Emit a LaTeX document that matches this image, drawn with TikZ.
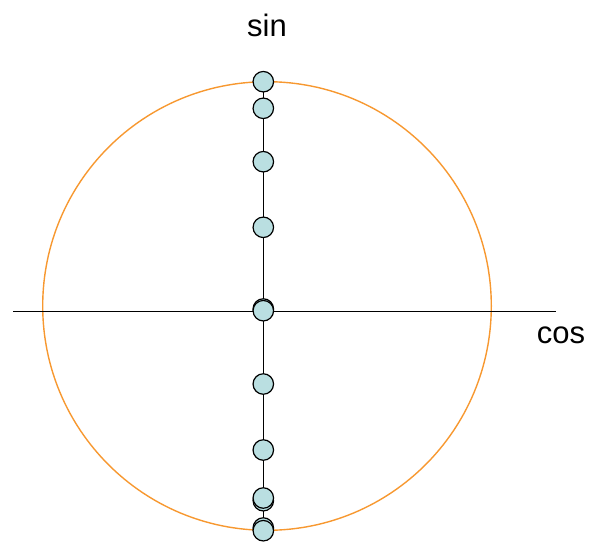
\documentclass[tikz,border=0pt]{standalone}
\usepackage{fontspec}
\setmainfont{Liberation Sans}
\definecolor{ringorange}{RGB}{247,152,48}
\definecolor{dotfill}{RGB}{186,223,225}
\begin{document}
\begin{tikzpicture}[x=1pt,y=-1pt,
  dotnode/.style={circle,draw=black,fill=dotfill,line width=1.2pt,minimum size=20.5pt,inner sep=0pt},
  axisline/.style={draw=black,line width=1.1pt},
  ring/.style={draw=ringorange,line width=1.4pt},
  lbl/.style={font=\fontsize{31}{36}\selectfont,inner sep=0pt}]
\useasboundingbox (0,0) rectangle (591,543);
\draw[ring] (267,306) circle (224.3);
\coordinate (axl) at (13,311.5);
\coordinate (axr) at (556,311.5);
\draw[axisline] (axl) -- (axr);
\coordinate (vt) at (263.3,81.7);
\coordinate (vb) at (263.3,530.7);
\draw[axisline] (vt) -- (vb);
\node[dotnode] (d1) at (263.3,81.7) {};
\node[dotnode] (d2) at (263.3,108.3) {};
\node[dotnode] (d3) at (263.3,161.7) {};
\node[dotnode] (d4) at (263.3,227.3) {};
\node[dotnode] (d5) at (263.3,309) {};
\node[dotnode] (d6) at (263.3,310.7) {};
\node[dotnode] (d7) at (263.3,384) {};
\node[dotnode] (d8) at (263.3,450) {};
\node[dotnode] (d10) at (263.3,500.7) {};
\node[dotnode] (d9) at (263.3,498) {};
\node[dotnode] (d11) at (263.3,528) {};
\node[dotnode] (d12) at (263.3,530.7) {};
\node[lbl,anchor=base] (sinl) at (267,37) {sin};
\node[lbl,anchor=base] (cosl) at (561,343) {cos};
\end{tikzpicture}
\end{document}
